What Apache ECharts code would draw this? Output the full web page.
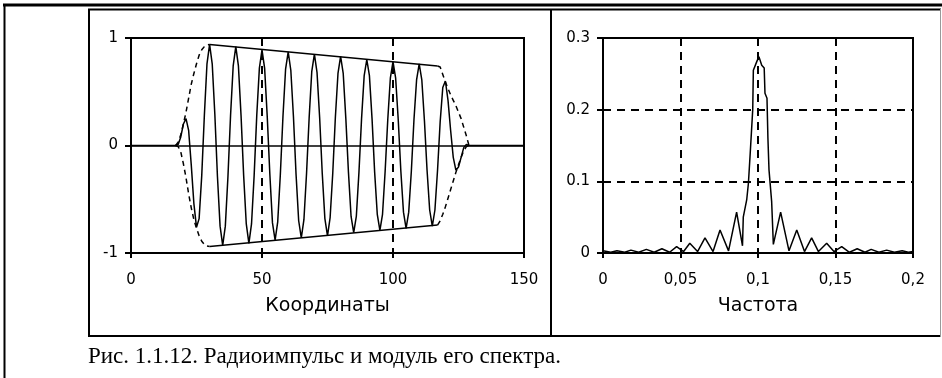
<!DOCTYPE html>
<html>
<head>
<meta charset="utf-8">
<script src="https://cdn.jsdelivr.net/npm/echarts@6/dist/echarts.min.js"></script>
<style>
  html, body { margin: 0; padding: 0; background: #fff; }
  #chart { width: 942px; height: 378px; }
</style>
</head>
<body>
<div id="chart"></div>
<script>
// Radio pulse: one sample per unit of the coordinate axis, x = 0 … 150
const pulseStart = 0;
const pulseValues = [
  0, 0, 0, 0, 0, 0, 0, 0, 0, 0, 0, 0, 0, 0, 0, 0, 0,
  0, 0.01, 0.08, 0.20, 0.25, 0.14, -0.18, -0.54, -0.76, -0.68, -0.28, 0.28, 0.76,
  0.94, 0.76, 0.29, -0.29, -0.75, -0.93, -0.75, -0.29, 0.28, 0.74,
  0.92, 0.74, 0.28, -0.28, -0.73, -0.91, -0.73, -0.28, 0.28, 0.72,
  0.89, 0.72, 0.27, -0.27, -0.72, -0.88, -0.71, -0.27, 0.27, 0.71,
  0.87, 0.70, 0.27, -0.27, -0.70, -0.86, -0.69, -0.26, 0.26, 0.69,
  0.85, 0.68, 0.26, -0.26, -0.68, -0.84, -0.67, -0.26, 0.26, 0.67,
  0.83, 0.67, 0.25, -0.25, -0.66, -0.81, -0.66, -0.25, 0.25, 0.65,
  0.80, 0.65, 0.25, -0.25, -0.64, -0.79, -0.64, -0.24, 0.24, 0.63,
  0.78, 0.63, 0.24, -0.24, -0.62, -0.77, -0.62, -0.24, 0.24, 0.61,
  0.76, 0.61, 0.23, -0.23, -0.60, -0.75, -0.60, -0.23, 0.22, 0.54,
  0.60, 0.42, 0.14, -0.11, -0.23, -0.20, -0.11, -0.02, 0.01, 0,
  0, 0, 0, 0, 0, 0, 0, 0, 0, 0, 0, 0, 0, 0, 0, 0, 0, 0, 0, 0, 0
];

// Envelope of the pulse: leading edge, slowly decaying top, trailing edge
const envRiseX   = [17, 18, 19, 20, 21, 22, 23, 24, 25, 26, 27, 28, 29, 30];
const envRiseUp  = [0, 0.03, 0.10, 0.20, 0.31, 0.44, 0.57, 0.67, 0.76, 0.84, 0.89, 0.92, 0.935, 0.94];
const envRiseLow = [0, -0.01, -0.06, -0.17, -0.30, -0.45, -0.58, -0.69, -0.77, -0.84, -0.89, -0.92, -0.935, -0.94];
const envTopX    = [30, 117];
const envTopUp   = [0.94, 0.74];
const envTopLow  = [-0.94, -0.74];
const envFallX   = [117, 118, 119, 120, 121, 122, 123, 124, 125, 126, 127, 128, 129];
const envFallUp  = [0.74, 0.73, 0.66, 0.59, 0.53, 0.47, 0.42, 0.37, 0.31, 0.25, 0.17, 0.09, 0];
const envFallLow = [-0.74, -0.70, -0.64, -0.57, -0.49, -0.41, -0.33, -0.25, -0.18, -0.11, -0.05, -0.01, 0];

// Spectrum magnitude
const specFreq = [
  0, 0.005, 0.009, 0.014, 0.018, 0.023, 0.028, 0.033, 0.038, 0.043,
  0.0475, 0.052, 0.056, 0.061, 0.0658, 0.071, 0.0755, 0.081, 0.0862, 0.0900,
  0.0905, 0.0927, 0.0938, 0.0950, 0.0966, 0.0970, 0.0992, 0.1006, 0.1024, 0.1040,
  0.1045, 0.1058, 0.1064, 0.1071, 0.1088, 0.1099, 0.1146, 0.120, 0.125, 0.130,
  0.1346, 0.139, 0.1443, 0.149, 0.154, 0.159, 0.164, 0.169, 0.173, 0.178,
  0.183, 0.188, 0.193, 0.197, 0.200
];
const specAmp = [
  0.003, 0.001, 0.003, 0.001, 0.004, 0.001, 0.005, 0.001, 0.006, 0.001,
  0.009, 0.002, 0.0135, 0.002, 0.021, 0.002, 0.032, 0.003, 0.057, 0.010,
  0.050, 0.074, 0.097, 0.140, 0.200, 0.255, 0.267, 0.274, 0.262, 0.258,
  0.223, 0.216, 0.160, 0.116, 0.072, 0.012, 0.057, 0.003, 0.032, 0.002,
  0.021, 0.002, 0.0135, 0.002, 0.009, 0.001, 0.006, 0.001, 0.005, 0.001,
  0.004, 0.001, 0.003, 0.001, 0.002
];

// Axis tick labels
const coordTicks = ['0', '50', '100', '150'];
const pulseTicks = ['-1', '0', '1'];
const freqTicks  = ['0', '0,05', '0,1', '0,15', '0,2'];
const specTicks  = ['0', '0.1', '0.2', '0.3'];

const axisTitle = { x: 'Координаты', f: 'Частота' };
const caption = 'Рис. 1.1.12. Радиоимпульс и модуль его спектра.';

const zip = (xs, ys) => xs.map((x, i) => [x, ys[i]]);
const pulseData = pulseValues.map((v, i) => [pulseStart + i, v]);

const INK = '#000';
const tickFont = { color: INK, fontFamily: 'DejaVu Sans', fontSize: 15 };
const nameFont = { color: INK, fontFamily: 'DejaVu Sans', fontSize: 19 };
const dashed = { color: INK, width: 2, type: [8, 6] };

function tickLabel(list, min, step) {
  return function (v) {
    const i = Math.round((v - min) / step);
    return list[i] !== undefined ? list[i] : '';
  };
}

function lineSeries(data, grid, opts) {
  return Object.assign({
    type: 'line',
    xAxisIndex: grid,
    yAxisIndex: grid,
    data: data,
    showSymbol: false,
    symbol: 'none',
    silent: true,
    lineStyle: { color: INK, width: 1.5 },
    z: 3
  }, opts || {});
}

const chart = echarts.init(document.getElementById('chart'), null, { renderer: 'canvas' });

chart.setOption({
  animation: false,
  backgroundColor: '#fff',
  grid: [
    { left: 131, right: 418, top: 38, bottom: 125, show: true, borderColor: INK, borderWidth: 2, backgroundColor: 'transparent' },
    { left: 603, right: 29, top: 38, bottom: 125, show: true, borderColor: INK, borderWidth: 2, backgroundColor: 'transparent' }
  ],
  xAxis: [
    {
      gridIndex: 0, type: 'value', min: 0, max: 150, interval: 50,
      name: axisTitle.x, nameLocation: 'middle', nameGap: 44, nameTextStyle: nameFont,
      axisLine: { show: true, onZero: false, lineStyle: { color: INK, width: 2 } },
      axisTick: { show: true, length: 5, lineStyle: { color: INK, width: 2 } },
      axisLabel: Object.assign({ margin: 20, formatter: tickLabel(coordTicks, 0, 50) }, tickFont),
      splitLine: { show: true, lineStyle: dashed }
    },
    {
      gridIndex: 1, type: 'value', min: 0, max: 0.2, interval: 0.05,
      name: axisTitle.f, nameLocation: 'middle', nameGap: 44, nameTextStyle: nameFont,
      axisLine: { show: true, onZero: false, lineStyle: { color: INK, width: 2 } },
      axisTick: { show: true, length: 5, lineStyle: { color: INK, width: 2 } },
      axisLabel: Object.assign({ margin: 20, formatter: tickLabel(freqTicks, 0, 0.05) }, tickFont),
      splitLine: { show: true, lineStyle: dashed }
    }
  ],
  yAxis: [
    {
      gridIndex: 0, type: 'value', min: -1, max: 1, interval: 1,
      axisLine: { show: true, onZero: false, lineStyle: { color: INK, width: 2 } },
      axisTick: { show: true, length: 6, lineStyle: { color: INK, width: 2 } },
      axisLabel: Object.assign({ margin: 13, formatter: tickLabel(pulseTicks, -1, 1) }, tickFont),
      splitLine: { show: false }
    },
    {
      gridIndex: 1, type: 'value', min: 0, max: 0.3, interval: 0.1,
      axisLine: { show: true, onZero: false, lineStyle: { color: INK, width: 2 } },
      axisTick: { show: true, length: 6, lineStyle: { color: INK, width: 2 } },
      axisLabel: Object.assign({ margin: 13, formatter: tickLabel(specTicks, 0, 0.1) }, tickFont),
      splitLine: { show: true, lineStyle: dashed }
    }
  ],
  series: [
    lineSeries(pulseData, 0, {
      markLine: {
        silent: true, symbol: 'none', label: { show: false },
        lineStyle: { color: INK, width: 1.5, type: 'solid' },
        data: [{ yAxis: 0 }]
      }
    }),
    lineSeries(zip(envRiseX, envRiseUp), 0, { lineStyle: { color: INK, width: 1.5, type: [5, 4] } }),
    lineSeries(zip(envRiseX, envRiseLow), 0, { lineStyle: { color: INK, width: 1.5, type: [5, 4] } }),
    lineSeries(zip(envTopX, envTopUp), 0),
    lineSeries(zip(envTopX, envTopLow), 0),
    lineSeries(zip(envFallX, envFallUp), 0, { lineStyle: { color: INK, width: 1.5, type: [5, 4] } }),
    lineSeries(zip(envFallX, envFallLow), 0, { lineStyle: { color: INK, width: 1.5, type: [5, 4] } }),
    lineSeries(zip(specFreq, specAmp), 1)
  ],
  graphic: [
    // page frame
    { type: 'line', shape: { x1: 3, y1: 5, x2: 942, y2: 5 }, style: { stroke: INK, lineWidth: 3 }, silent: true },
    { type: 'line', shape: { x1: 4.5, y1: 4, x2: 4.5, y2: 378 }, style: { stroke: INK, lineWidth: 2 }, silent: true },
    // figure box and panel divider
    { type: 'line', shape: { x1: 88, y1: 9.5, x2: 941, y2: 9.5 }, style: { stroke: INK, lineWidth: 2 }, silent: true },
    { type: 'line', shape: { x1: 89, y1: 9, x2: 89, y2: 337 }, style: { stroke: INK, lineWidth: 2 }, silent: true },
    { type: 'line', shape: { x1: 88, y1: 336, x2: 941, y2: 336 }, style: { stroke: INK, lineWidth: 2 }, silent: true },
    { type: 'line', shape: { x1: 940.5, y1: 9, x2: 940.5, y2: 337 }, style: { stroke: '#999', lineWidth: 1 }, silent: true },
    { type: 'line', shape: { x1: 551, y1: 9, x2: 551, y2: 336 }, style: { stroke: INK, lineWidth: 2 }, silent: true },
    // caption
    {
      type: 'text', left: 88, top: 345, silent: true,
      style: { text: caption, fill: INK, font: '23px "Liberation Serif", "Times New Roman", serif' }
    }
  ]
});
</script>
</body>
</html>
